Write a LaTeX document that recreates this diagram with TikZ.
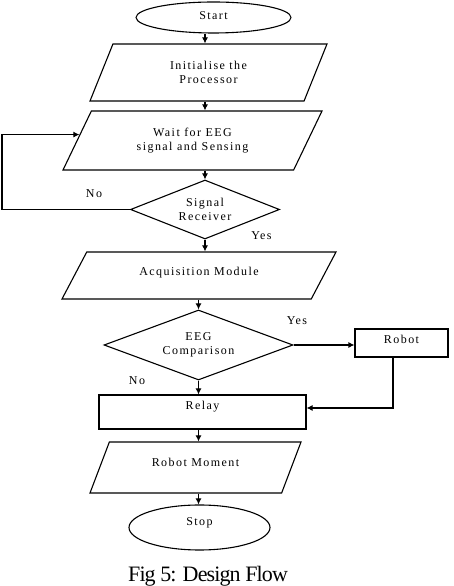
\documentclass[tikz,border=0pt]{standalone}
\usepackage{fontspec}
\usetikzlibrary{shapes.geometric,arrows.meta}
\newfontfamily\boxfont[LetterSpace=12]{Liberation Serif}
\newfontfamily\capfont[LetterSpace=-4]{Liberation Serif}
\begin{document}
\begin{tikzpicture}[x=1pt,y=1pt,line width=1.1pt,>={Latex[length=6pt,width=6pt]},
  every node/.style={font=\boxfont\fontsize{12}{14.5}\selectfont,align=center,inner sep=0pt},
  term/.style={draw,ellipse},
  io/.style={draw,trapezium,trapezium left angle=#1,trapezium right angle={180-#1},trapezium stretches body},
  test/.style={draw,diamond,aspect=2.5},
  proc/.style={draw,rectangle},
  lift/.style={text height=8pt,text depth=#1}]
\useasboundingbox (0,0) rectangle (454,586);
\node[term,lift=4.1pt,minimum width=155pt,minimum height=31pt] (start) at (213.5,568.5) {Start};
\node[io=45,minimum width=237pt,minimum height=57pt] (init) at (208.5,513.5) {Initialise the\\Processor};
\node[io=42,minimum width=259pt,minimum height=59pt] (wait) at (192.5,445.5) {Wait for EEG\\signal and Sensing};
\node[test,minimum width=149pt,minimum height=59pt] (sig) at (205,376.5) {Signal\\Receiver};
\node[io=34,lift=8.7pt,minimum width=274pt,minimum height=47pt] (acq) at (199,310.5) {Acquisition Module};
\node[test,minimum width=189pt,minimum height=70pt] (cmp) at (198.5,241) {EEG\\Comparison};
\node[proc,lift=7.7pt,minimum width=93pt,minimum height=28pt] (robot) at (401.5,243) {Robot};
\node[proc,lift=13.7pt,minimum width=207pt,minimum height=34pt] (relay) at (202.5,174) {Relay};
\node[io=44,lift=10.7pt,minimum width=211pt,minimum height=51pt] (move) at (195.5,118.5) {Robot Moment};
\node[term,lift=12.7pt,minimum width=141pt,minimum height=45pt] (stop) at (199.5,58.5) {Stop};
\node (no1) at (94,392) {No};
\node (yes1) at (261.5,350) {Yes};
\node (yes2) at (297,265) {Yes};
\node (no2) at (137,205) {No};
\node[font=\capfont\fontsize{22}{24}\selectfont,anchor=base] (caption) at (208,5) {Fig 5: Design Flow};
\draw[->] (start.south -| sig.north) -- (init.north -| sig.north);
\draw[->] (init.south -| sig.north) -- (wait.north -| sig.north);
\draw[->] (wait.south -| sig.north) -- (sig.north);
\draw[->] (sig.south) -- (sig.south |- acq.north);
\draw[->] (acq.south -| cmp.north) -- (cmp.north);
\draw[->] (cmp.south) -- (cmp.south |- relay.north);
\draw[->] (relay.south -| cmp.north) -- (move.north -| cmp.north);
\draw[->] (move.south -| cmp.north) -- (stop.north -| cmp.north);
\draw[->] (cmp.east) -- (cmp.east -| robot.west);
\draw[->] ([xshift=-8.5pt]robot.south) |- ([yshift=4pt]relay.east);
\draw[->] (sig.west) -- ++(-128,0) |- (wait.177);
\end{tikzpicture}
\end{document}
